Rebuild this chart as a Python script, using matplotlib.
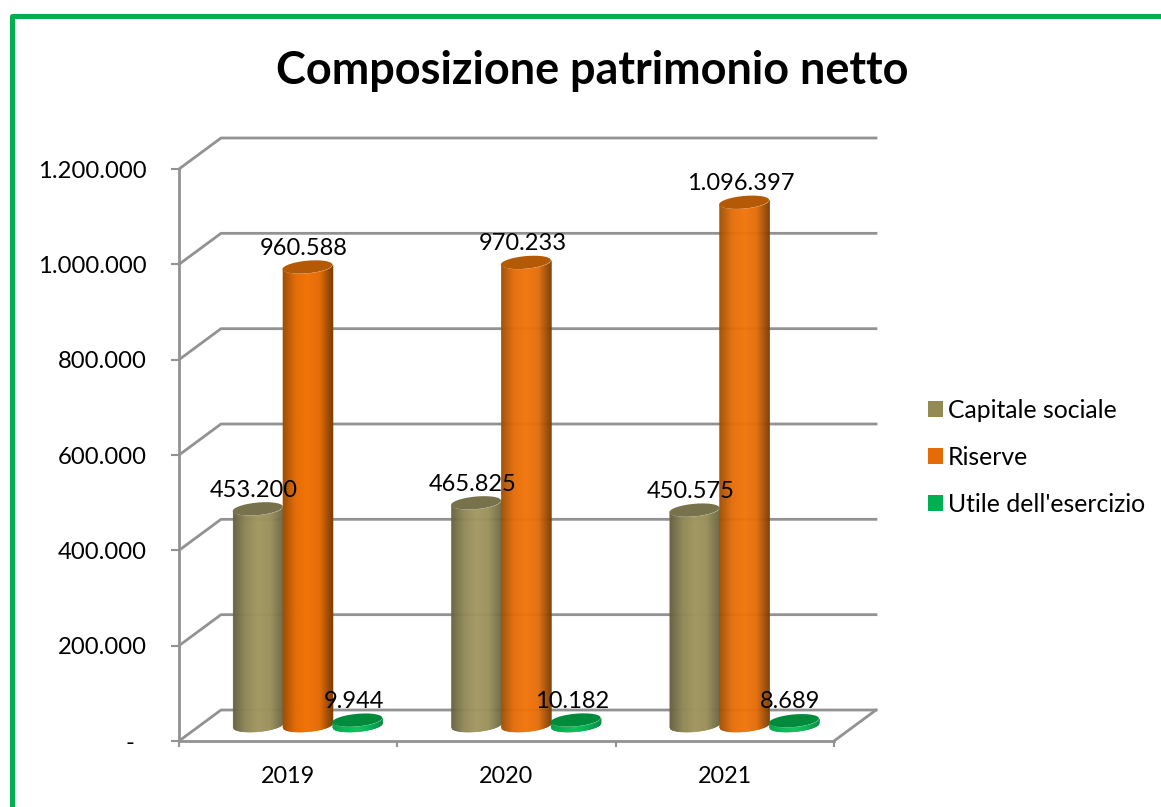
import numpy as np
import matplotlib
matplotlib.use("Agg")
import matplotlib.pyplot as plt
from matplotlib.lines import Line2D
from matplotlib.patches import Patch
from matplotlib.colors import LinearSegmentedColormap

plt.rcParams['font.family'] = ['Lato', 'DejaVu Sans']

# data
years = ['2019', '2020', '2021']
capitale = [453200, 465825, 450575]
riserve = [960588, 970233, 1096397]
utile = [9944, 10182, 8689]
series_names = ['Capitale sociale', 'Riserve', "Utile dell'esercizio"]
y_ticks = [0, 200000, 400000, 600000, 800000, 1000000, 1200000]
y_labels = ['-  ', '200.000', '400.000', '600.000', '800.000', '1.000.000', '1.200.000']

W, H = 1161, 807
GRAY = '#929292'
GREEN = '#00b050'
legend_cols = ['#948a54', '#e36c09', '#00b050']

# side shading left -> right, top cap colour
ramps = [
    (['#66623f', '#8f8757', '#a1975f', '#9a905b', '#6f6a45'], '#77724c'),
    (['#a04f04', '#e46c08', '#f27408', '#e46c08', '#7f3f02'], '#b45a06'),
    (['#00a048', '#00b653', '#0cc05c', '#00b050', '#008c40'], '#008a3c'),
]

fig = plt.figure(figsize=(W / 100, H / 100), dpi=100)
ax = fig.add_axes([179 / W, (H - 741) / H, 655 / W, 572 / H])
ax.set_xlim(0, 3)
ax.set_ylim(0, 1200000)

# px sizes turned into data units
ux = 655 / 3
uy = 572 / 1200000
dx = 42 / ux
dy = 31 / uy
bar_w = 50 / ux
step = 0.228
ell_h = 6.3 / uy
tilt = 2.2 / uy
depth_x = 0.46
depth_y = 0.52


def cylinder(xc, base, value, ramp, cap, z):
    cmap = LinearSegmentedColormap.from_list('c', ramp)
    n = 50
    ts = np.linspace(-1, 1, n + 1)
    for i in range(n):
        t = ts[i:i + 2]
        xs = xc + t * bar_w / 2
        lo = base - ell_h * np.sqrt(1 - t ** 2) + tilt * t
        hi = lo + value
        ax.fill_between(xs, lo, hi, color=cmap(i / (n - 1)), lw=0.4, zorder=z, clip_on=False)
    t = np.linspace(0, 2 * np.pi, 120)
    ex = xc + np.cos(t) * bar_w / 2
    ey = base + value + ell_h * np.sin(t) + tilt * np.cos(t)
    ax.fill(ex, ey, color=cap, lw=0, zorder=z + 0.1, clip_on=False)


# back wall + left wall lines
for v in y_ticks:
    ax.plot([0, dx, 3 + dx], [v, v + dy, v + dy], color=GRAY, lw=2, zorder=1, clip_on=False)
ax.plot([3, 3 + dx], [0, dy], color=GRAY, lw=2, zorder=1, clip_on=False)

for spine in ['top', 'right']:
    ax.spines[spine].set_visible(False)
for spine in ['left', 'bottom']:
    ax.spines[spine].set_color(GRAY)
    ax.spines[spine].set_linewidth(2)
ax.patch.set_alpha(0)

ax.set_yticks(y_ticks)
ax.set_yticklabels(y_labels)
ax.set_xticks([0, 1, 2, 3])
ax.set_xticklabels([])
ax.set_xticks([0.5, 1.5, 2.5], minor=True)
ax.set_xticklabels(years, minor=True)
ax.tick_params(axis='x', which='minor', length=0, labelsize=16.8, pad=18)
ax.tick_params(axis='x', which='major', length=4.5, width=1.5, color=GRAY)
ax.tick_params(axis='y', length=5.5, width=1.5, color=GRAY, labelsize=17.2, pad=17.5)

# cylinders and value labels
for j, values in enumerate([capitale, riserve, utile]):
    ramp, cap = ramps[j]
    for i, v in enumerate(values):
        xc = i + 0.5 + (j - 1) * step + depth_x * dx
        base = depth_y * dy
        cylinder(xc, base, v, ramp, cap, 3 + j)
        ax.annotate(f'{v:,}'.replace(',', '.'), (xc, base + v), xytext=(-2.5, 6),
                    textcoords='offset points', ha='center', va='bottom',
                    fontsize=17, color='black', zorder=10, annotation_clip=False)

fig.text(592 / W, 1 - 71 / H, 'Composizione patrimonio netto', ha='center', va='center',
         fontsize=32.4, fontweight='bold', color='black')

handles = [Patch(facecolor=c, edgecolor='none') for c in legend_cols]
fig.legend(handles, series_names, loc='center left', bbox_to_anchor=(928 / W, 1 - 457.5 / H),
           frameon=False, fontsize=17.8, handlelength=0.6, handleheight=0.6,
           handletextpad=0.2, labelspacing=0.97, borderpad=0, borderaxespad=0)

# green frame, only top and left are in the crop
fig.add_artist(Line2D([11.5 / W, 11.5 / W, 1], [0, 1 - 16 / H, 1 - 16 / H],
                      color=GREEN, lw=3.6, solid_joinstyle='round'))

fig.savefig('out.png', dpi=100)
